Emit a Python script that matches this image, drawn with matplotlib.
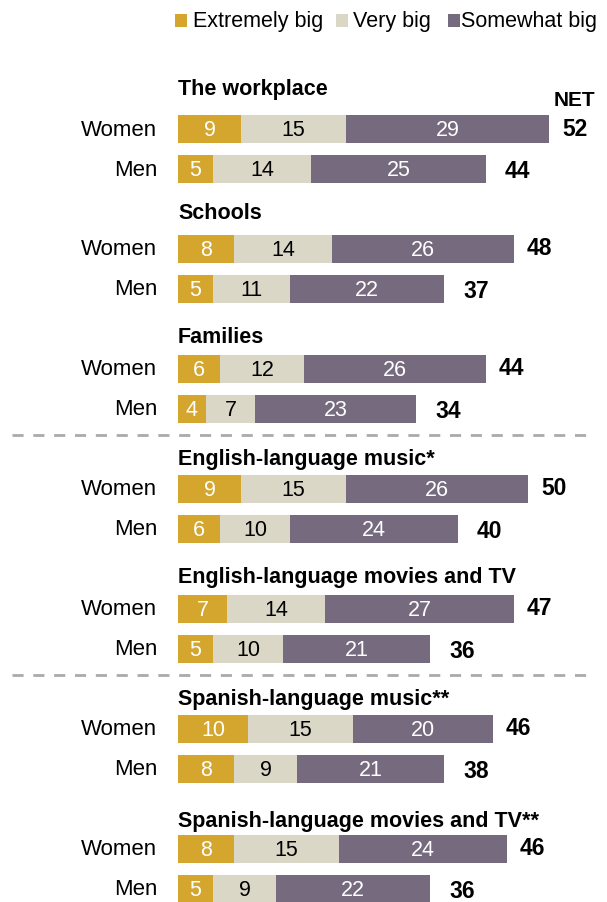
import matplotlib.pyplot as plt

# survey groups, top to bottom
groups = ["The workplace", "Schools", "Families", "English-language music*",
          "English-language movies and TV", "Spanish-language music**",
          "Spanish-language movies and TV**"]
sexes = ["Women", "Men"]

# values per group: [women, men]
extremely = [[9, 5], [8, 5], [6, 4], [9, 6], [7, 5], [10, 8], [8, 5]]
very = [[15, 14], [14, 11], [12, 7], [15, 10], [14, 10], [15, 9], [15, 9]]
somewhat = [[29, 25], [26, 22], [26, 23], [26, 24], [27, 21], [20, 21], [24, 22]]
net = [[52, 44], [48, 37], [44, 34], [50, 40], [47, 36], [46, 38], [46, 36]]

series = ["Extremely big", "Very big", "Somewhat big"]
colors = ["#D4A62E", "#DAD7C6", "#756A7E"]
text_colors = ["white", "black", "white"]

plt.rcParams['font.family'] = ['Liberation Sans', 'DejaVu Sans']

W, H = 607, 903
fig = plt.figure(figsize=(W / 100, H / 100), dpi=100)
ax = fig.add_axes([0, 0, 1, 1])
px = 7.0  # pixels per point of percentage
x0 = 178
ax.set_xlim(-x0 / px, (W - x0) / px)
ax.set_ylim(H, 0)
ax.axis('off')

top = 130
step = 120
gap = 40
bar_h = 28
title_y = [90, 214, 338, 460, 578, 700, 822]

for g, name in enumerate(groups):
    yw = top + g * step
    ax.text(0, title_y[g], name, fontsize=15.5, fontweight='bold',
            ha='left', va='center')
    for s in range(2):
        y = yw + s * gap
        vals = [extremely[g][s], very[g][s], somewhat[g][s]]
        left = 0
        for v, c, tc in zip(vals, colors, text_colors):
            ax.barh(y, v, left=left, height=bar_h, color=c, edgecolor='none')
            ax.text(left + v / 2, y + 1, str(v), ha='center', va='center',
                    fontsize=15.5, color=tc)
            left += v
        ax.text(-21 / px, y, sexes[s], ha='right', va='center', fontsize=16)
        dx = 13 / px if s == 0 else 19 / px
        dy = -1 if s == 0 else 2
        ax.text(left + dx, y + dy, str(net[g][s]), ha='left', va='center',
                fontsize=16.5, fontweight='bold')

ax.text(sum([extremely[0][0], very[0][0], somewhat[0][0]]) + 5 / px, 101,
        "NET", ha='left', va='center', fontsize=15, fontweight='bold')

# dashed separators between topic blocks
for yl in [436, 676]:
    ax.plot([-166 / px, (595 - x0) / px], [yl, yl], color='#AAAAAA',
            lw=2, ls=(0, (4, 3.5)))

# legend row
sq_x = [175, 336, 448]
lab_x = [193, 353, 461]
for x, tx, lab, c in zip(sq_x, lab_x, series, colors):
    ax.bar((x + 6 - x0) / px, 13, width=12 / px, bottom=15, color=c)
    ax.text((tx - x0) / px, 21, lab, ha='left', va='center', fontsize=15.5)

fig.savefig("out.png", dpi=100)
